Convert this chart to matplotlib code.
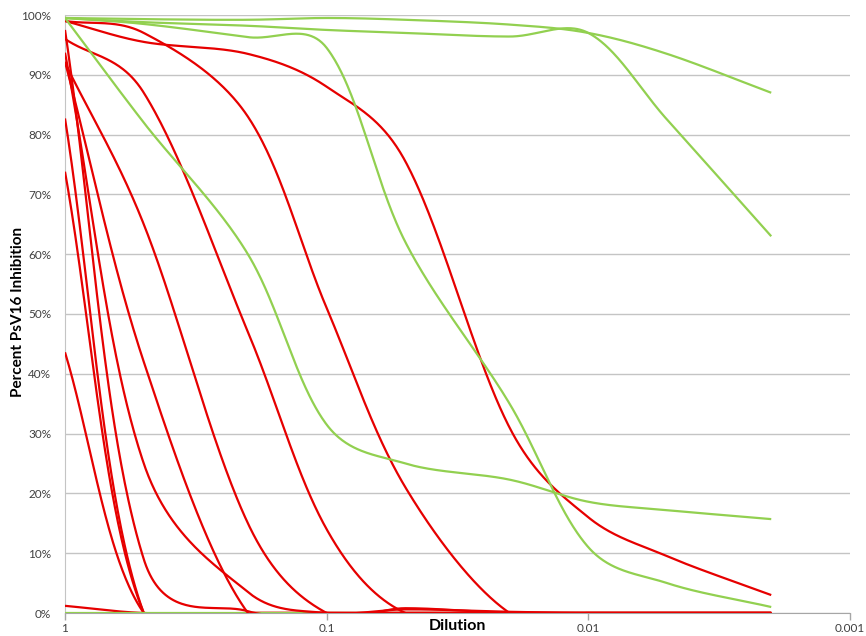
import numpy as np
import matplotlib
matplotlib.use('Agg')
import matplotlib.pyplot as plt
from matplotlib.ticker import FixedLocator, NullLocator

plt.rcParams['font.family'] = ['Lato', 'DejaVu Sans']

dilutions = [1, 0.5, 0.2, 0.1, 0.05, 0.02, 0.01, 0.005, 0.002]

# red series (percent inhibition at each dilution)
red_steep_1 = [82.7, 0, 0, 0, 0, 0, 0, 0, 0]
red_steep_2 = [73.8, 0, 0, 0, 0, 0, 0, 0, 0]
red_steep_3 = [43.6, 0, 0, 0, 0, 0, 0, 0, 0]
red_low = [1.2, 0, 0, 0, 0, 0, 0, 0, 0]
red_f1 = [97.5, 9.0, 0.3, 0, 0, 0, 0, 0, 0]
red_p = [93.7, 25.0, 3.5, 0, 0.6, 0.2, 0, 0, 0]
red_q = [92.2, 42.0, 0, 0, 0, 0, 0, 0, 0]
red_r4 = [92.0, 65.0, 15.0, 0, 0.8, 0, 0, 0, 0]
red_rc = [96.0, 87.0, 47.0, 14.0, 0, 0, 0, 0, 0]
red_rb = [99.0, 97.0, 83.0, 51.0, 21.0, 0, 0, 0, 0]
red_ra = [99.0, 95.5, 93.5, 88.0, 75.5, 31.0, 16.0, 9.5, 3.0]

# green series
green_zero = [0, 0, 0, 0, 0, 0, 0, 0, 0]
green_g1 = [99.5, 99.3, 99.2, 99.5, 99.2, 98.4, 97.0, 93.5, 87.0]
green_g2 = [99.5, 98.8, 98.2, 97.5, 97.0, 96.4, 97.0, 82.5, 63.0]
green_g3 = [99.5, 98.5, 96.3, 94.5, 62.0, 35.0, 11.0, 5.0, 1.0]
green_g4 = [99.5, 82.0, 60.0, 31.5, 25.0, 22.3, 18.6, 17.2, 15.7]

y_ticks = [0, 10, 20, 30, 40, 50, 60, 70, 80, 90, 100]
x_ticks = [1, 0.1, 0.01, 0.001]
x_tick_labels = ['1', '0.1', '0.01', '0.001']

RED = '#e60000'
GREEN = '#92d050'

fig = plt.figure(figsize=(8.66, 6.36), dpi=100)
ax = fig.add_axes([65 / 866, 1 - 613 / 636, (850 - 65) / 866, (613 - 15) / 636])
ax.set_xscale('log')
ax.set_xlim(1, 0.001)
ax.set_ylim(0, 100)


def smooth(xs, ys, n=80, w=0.5):
    """Excel-like smoothed line: Bezier segments, tangents partly weighted by
    neighbouring chord lengths, computed in screen space."""
    P = ax.transData.transform(np.column_stack([xs, ys]).astype(float))
    m = len(P)
    out = []
    for i in range(m - 1):
        p0 = P[i - 1] if i > 0 else P[i]
        p1 = P[i]
        p2 = P[i + 1]
        p3 = P[i + 2] if i + 2 < m else P[i + 1]
        d01 = np.hypot(*(p1 - p0))
        d12 = np.hypot(*(p2 - p1))
        d23 = np.hypot(*(p3 - p2))
        f1 = d12 / (d01 + d12) if d01 + d12 > 0 else 0.5
        f2 = d12 / (d12 + d23) if d12 + d23 > 0 else 0.5
        f1 = (1 - w) * 0.5 + w * f1
        f2 = (1 - w) * 0.5 + w * f2
        if i == 0:
            c1 = p1 + (p2 - p1) / 3.0
        else:
            c1 = p1 + (p2 - p0) * f1 / 3.0
        if i + 2 >= m:
            c2 = p2 - (p2 - p1) / 3.0
        else:
            c2 = p2 - (p3 - p1) * f2 / 3.0
        t = np.linspace(0, 1, n)[:, None]
        seg = (1 - t) ** 3 * p1 + 3 * (1 - t) ** 2 * t * c1 + 3 * (1 - t) * t ** 2 * c2 + t ** 3 * p2
        out.append(seg if i == 0 else seg[1:])
    pts = ax.transData.inverted().transform(np.vstack(out))
    return pts[:, 0], pts[:, 1]


for yv in y_ticks:
    ax.axhline(yv, color='#c4c4c4', lw=1.0, zorder=1)


def draw(vals, color, z):
    xs, ys = smooth(dilutions, vals)
    ax.plot(xs, ys, color=color, lw=1.6, solid_capstyle='butt', zorder=z)


for s in [red_steep_1, red_steep_2, red_steep_3, red_low]:
    draw(s, RED, 2)
draw(green_zero, GREEN, 3)
for s in [red_f1, red_p, red_q, red_r4, red_rc, red_rb, red_ra]:
    draw(s, RED, 4)
for s in [green_g1, green_g2, green_g3, green_g4]:
    draw(s, GREEN, 5)

ax.yaxis.set_major_locator(FixedLocator(y_ticks))
ax.set_yticklabels([f'{v}%' for v in y_ticks])
ax.xaxis.set_major_locator(FixedLocator(x_ticks))
ax.xaxis.set_minor_locator(NullLocator())
ax.set_xticklabels(x_tick_labels)

for sp in ['top', 'right']:
    ax.spines[sp].set_visible(False)
ax.spines['left'].set_color('#c4c4c4')
ax.spines['bottom'].set_color('#a6a6a6')
ax.spines['left'].set_zorder(0)
ax.tick_params(axis='y', length=0, pad=10, labelsize=8.5, labelcolor='#404040')
ax.tick_params(axis='x', length=5, width=1, color='#a6a6a6', pad=2, labelsize=8.5,
               labelcolor='#404040', direction='out')

fig.text(457 / 866, 1 - 626 / 636, 'Dilution', fontsize=11.5, fontweight='bold',
         ha='center', va='center', color='#000000')
fig.text(18 / 866, 1 - 312 / 636, 'Percent PsV16 Inhibition', fontsize=11, fontweight='bold',
         ha='center', va='center', rotation=90, color='#000000')

fig.savefig('out.png', dpi=100)
